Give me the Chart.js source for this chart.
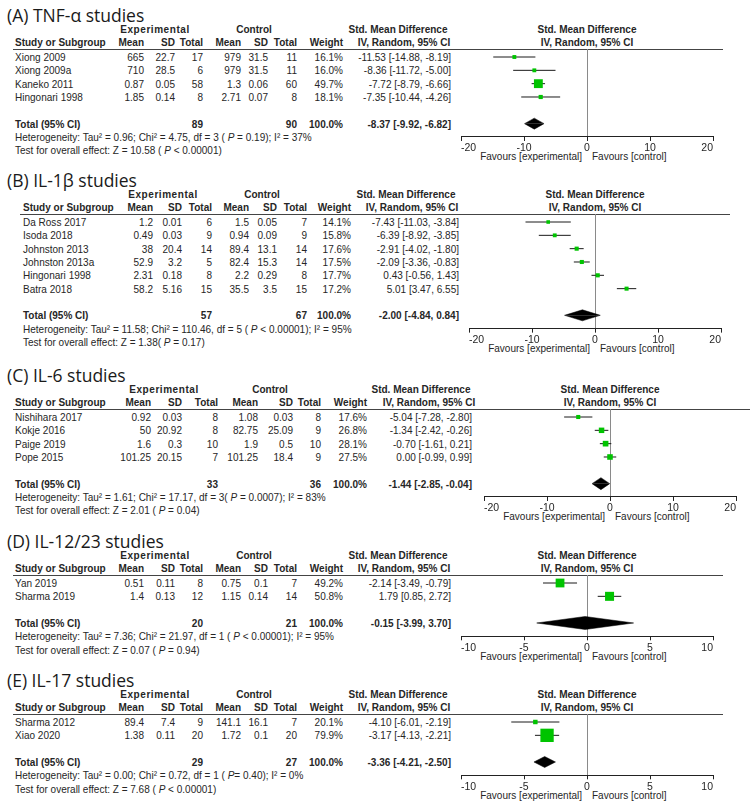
<!DOCTYPE html>
<html><head><meta charset="utf-8">
<script src="https://cdn.jsdelivr.net/npm/chart.js@4.4.1/dist/chart.umd.min.js"></script>
<style>
html,body{margin:0;padding:0;background:#fff;}
#root{position:relative;width:750px;height:808px;overflow:hidden;font-family:"Liberation Sans",Arial,Helvetica,sans-serif;font-size:11px;color:#262626;}
.t{position:absolute;white-space:nowrap;line-height:1.15;}
.title{font-family:"Open Sans",sans-serif;font-size:17.5px;color:#1a1a1a;}
.b{font-weight:bold;}
.exp{letter-spacing:0.6px;}
.hl{position:absolute;height:1px;background:#444;}
canvas{position:absolute;}
</style></head><body><div id="root"></div>
<script>
// ---------- (A) TNF-α ----------
const tnfStudies = ["Xiong 2009", "Xiong 2009a", "Kaneko 2011", "Hingonari 1998"];
const tnfExpMean = [665, 710, 0.87, 1.85];
const tnfExpSD = [22.7, 28.5, 0.05, 0.14];
const tnfExpN = [17, 6, 58, 8];
const tnfCtlMean = [979, 979, 1.3, 2.71];
const tnfCtlSD = [31.5, 31.5, 0.06, 0.07];
const tnfCtlN = [11, 11, 60, 8];
const tnfWeight = [16.1, 16.0, 49.7, 18.1];
const tnfSMD = [-11.53, -8.36, -7.72, -7.35];
const tnfLow = [-14.88, -11.72, -8.79, -10.44];
const tnfHigh = [-8.19, -5.00, -6.66, -4.26];
const tnfTotalN = [89, 90];
const tnfPooled = [-8.37, -9.92, -6.82];
const tnfHet = "Heterogeneity: Tau² = 0.96; Chi² = 4.75, df = 3 ( <i>P</i> = 0.19); I² = 37%";
const tnfTest = "Test for overall effect: Z = 10.58 ( <i>P</i> &lt; 0.00001)";
const tnfTicks = [-20, -10, 0, 10, 20];

// ---------- (B) IL-1β ----------
const il1bStudies = ["Da Ross 2017", "Isoda 2018", "Johnston 2013", "Johnston 2013a", "Hingonari 1998", "Batra 2018"];
const il1bExpMean = [1.2, 0.49, 38, 52.9, 2.31, 58.2];
const il1bExpSD = [0.01, 0.03, 20.4, 3.2, 0.18, 5.16];
const il1bExpN = [6, 9, 14, 5, 8, 15];
const il1bCtlMean = [1.5, 0.94, 89.4, 82.4, 2.2, 35.5];
const il1bCtlSD = [0.05, 0.09, 13.1, 15.3, 0.29, 3.5];
const il1bCtlN = [7, 9, 14, 14, 8, 15];
const il1bWeight = [14.1, 15.8, 17.6, 17.5, 17.7, 17.2];
const il1bSMD = [-7.43, -6.39, -2.91, -2.09, 0.43, 5.01];
const il1bLow = [-11.03, -8.92, -4.02, -3.36, -0.56, 3.47];
const il1bHigh = [-3.84, -3.85, -1.80, -0.83, 1.43, 6.55];
const il1bTotalN = [57, 67];
const il1bPooled = [-2.00, -4.84, 0.84];
const il1bHet = "Heterogeneity: Tau² = 11.58; Chi² = 110.46, df = 5 ( <i>P</i> &lt; 0.00001); I² = 95%";
const il1bTest = "Test for overall effect: Z = 1.38( <i>P</i> = 0.17)";
const il1bTicks = [-20, -10, 0, 10, 20];

// ---------- (C) IL-6 ----------
const il6Studies = ["Nishihara 2017", "Kokje 2016", "Paige 2019", "Pope 2015"];
const il6ExpMean = [0.92, 50, 1.6, 101.25];
const il6ExpSD = [0.03, 20.92, 0.3, 20.15];
const il6ExpN = [8, 8, 10, 7];
const il6CtlMean = [1.08, 82.75, 1.9, 101.25];
const il6CtlSD = [0.03, 25.09, 0.5, 18.4];
const il6CtlN = [8, 9, 10, 9];
const il6Weight = [17.6, 26.8, 28.1, 27.5];
const il6SMD = [-5.04, -1.34, -0.70, 0.00];
const il6Low = [-7.28, -2.42, -1.61, -0.99];
const il6High = [-2.80, -0.26, 0.21, 0.99];
const il6TotalN = [33, 36];
const il6Pooled = [-1.44, -2.85, -0.04];
const il6Het = "Heterogeneity: Tau² = 1.61; Chi² = 17.17, df = 3( <i>P</i> = 0.0007); I² = 83%";
const il6Test = "Test for overall effect: Z = 2.01 ( <i>P</i> = 0.04)";
const il6Ticks = [-20, -10, 0, 10, 20];

// ---------- (D) IL-12/23 ----------
const il12Studies = ["Yan 2019", "Sharma 2019"];
const il12ExpMean = [0.51, 1.4];
const il12ExpSD = [0.11, 0.13];
const il12ExpN = [8, 12];
const il12CtlMean = [0.75, 1.15];
const il12CtlSD = [0.1, 0.14];
const il12CtlN = [7, 14];
const il12Weight = [49.2, 50.8];
const il12SMD = [-2.14, 1.79];
const il12Low = [-3.49, 0.85];
const il12High = [-0.79, 2.72];
const il12TotalN = [20, 21];
const il12Pooled = [-0.15, -3.99, 3.70];
const il12Het = "Heterogeneity: Tau² = 7.36; Chi² = 21.97, df = 1 ( <i>P</i> &lt; 0.00001); I² = 95%";
const il12Test = "Test for overall effect: Z = 0.07 ( <i>P</i> = 0.94)";
const il12Ticks = [-10, -5, 0, 5, 10];

// ---------- (E) IL-17 ----------
const il17Studies = ["Sharma 2012", "Xiao 2020"];
const il17ExpMean = [89.4, 1.38];
const il17ExpSD = [7.4, 0.11];
const il17ExpN = [9, 20];
const il17CtlMean = [141.1, 1.72];
const il17CtlSD = [16.1, 0.1];
const il17CtlN = [7, 20];
const il17Weight = [20.1, 79.9];
const il17SMD = [-4.10, -3.17];
const il17Low = [-6.01, -4.13];
const il17High = [-2.19, -2.21];
const il17TotalN = [29, 27];
const il17Pooled = [-3.36, -4.21, -2.50];
const il17Het = "Heterogeneity: Tau² = 0.00; Chi² = 0.72, df = 1 ( <i>P</i>= 0.40); I² = 0%";
const il17Test = "Test for overall effect: Z = 7.68 ( <i>P</i> &lt; 0.00001)";
const il17Ticks = [-10, -5, 0, 5, 10];

// ---------- assembly ----------
const root = document.getElementById('root');
const FONT = '"Liberation Sans", Arial, Helvetica, sans-serif';
const ROWH = 13.33;
const GREEN = '#00c400';
const SQX = 0.91;

function txt(x, y, html, align, cls) {
  const d = document.createElement('div');
  d.className = 't ' + (cls || '');
  d.innerHTML = html;
  d.style.left = x + 'px';
  d.style.top = y + 'px';
  const isTitle = (cls || '').indexOf('title') >= 0;
  const tx = align === 'r' ? '-100%' : (align === 'c' ? '-50%' : '0');
  d.style.transformOrigin = (align === 'r' ? 'right' : (align === 'c' ? 'center' : 'left')) + ' center';
  d.style.transform = 'translate(' + tx + ',-50%)' + (isTitle ? '' : ' scaleX(' + SQX + ')');
  root.appendChild(d);
}

function panel(d, L) {
  const n = d.studies.length;
  const r0 = L.row0;
  const rowY = i => r0 + i * ROWH;
  const c = L.cols;
  const zero = (L.xl + L.xr) / 2;
  txt(7, r0 - 42.5, d.title, 'l', 'title');
  txt(L.exp, r0 - 28, 'Experimental', 'c', 'b exp');
  txt(L.ctl, r0 - 28, 'Control', 'c', 'b');
  txt(L.smdH[0], r0 - 28, 'Std. Mean Difference', 'c', 'b');
  txt(zero, r0 - 28, 'Std. Mean Difference', 'c', 'b');
  txt(L.studyX, r0 - 15, 'Study or Subgroup', 'l', 'b');
  ['Mean', 'SD', 'Total', 'Mean', 'SD', 'Total', 'Weight'].forEach((h, k) => txt(c[k], r0 - 15, h, 'r', 'b'));
  txt(L.smdH[1], r0 - 15, 'IV, Random, 95% CI', 'c', 'b');
  txt(zero, r0 - 15, 'IV, Random, 95% CI', 'c', 'b');
  const lineY = r0 - 8;
  const hl = document.createElement('div');
  hl.className = 'hl';
  hl.style.left = L.line[0] + 'px';
  hl.style.width = (L.line[1] - L.line[0]) + 'px';
  hl.style.top = lineY + 'px';
  root.appendChild(hl);

  for (let i = 0; i < n; i++) {
    const y = rowY(i);
    txt(L.studyX, y, d.studies[i], 'l');
    const vals = [d.expMean[i], d.expSD[i], d.expN[i], d.ctlMean[i], d.ctlSD[i], d.ctlN[i], d.weight[i].toFixed(1) + '%'];
    vals.forEach((v, k) => txt(c[k], y, String(v), 'r'));
    txt(c[7], y, d.smd[i].toFixed(2) + ' [' + d.low[i].toFixed(2) + ', ' + d.high[i].toFixed(2) + ']', 'r');
  }
  const ty = rowY(n + 1);
  txt(L.studyX, ty, 'Total (95% CI)', 'l', 'b');
  txt(c[2], ty, String(d.totalN[0]), 'r', 'b');
  txt(c[5], ty, String(d.totalN[1]), 'r', 'b');
  txt(c[6], ty, '100.0%', 'r', 'b');
  txt(c[7], ty, d.pooled[0].toFixed(2) + ' [' + d.pooled[1].toFixed(2) + ', ' + d.pooled[2].toFixed(2) + ']', 'r', 'b');
  txt(L.studyX, rowY(n + 2), d.het, 'l');
  txt(L.studyX, rowY(n + 3), d.test, 'l');

  const axisY = rowY(n + 2);
  txt(zero - 5, axisY + 19.5, 'Favours [experimental]', 'r');
  txt(zero + 5, axisY + 19.5, 'Favours [control]', 'l');

  // chart
  const padL = 10, padR = 10, padT = 10, xH = 18;
  const cTop = lineY - padT;
  const H = Math.ceil(axisY - cTop + xH);
  const padB = H - (axisY - cTop) - xH;
  const W = L.xr - L.xl + padL + padR;
  const cv = document.createElement('canvas');
  cv.width = W; cv.height = H;
  cv.style.left = (L.xl - padL) + 'px';
  cv.style.top = cTop + 'px';
  cv.style.width = W + 'px';
  cv.style.height = H + 'px';
  root.appendChild(cv);

  const datasets = [];
  datasets.push({
    type: 'line', showLine: false, order: 0, clip: false,
    data: d.smd.map((v, i) => ({x: v, y: i})),
    pointStyle: 'rect',
    pointRadius: ctx => (1.5 + 0.148 * d.weight[ctx.dataIndex]) / Math.SQRT2,
    pointBackgroundColor: GREEN, pointBorderWidth: 0, pointHoverRadius: 0
  });
  for (let i = 0; i < n; i++) {
    datasets.push({
      type: 'line', order: 2, clip: false,
      data: [{x: d.low[i], y: i}, {x: d.high[i], y: i}],
      borderColor: '#1a1a1a', borderWidth: 1, pointRadius: 0, fill: false, tension: 0
    });
  }
  const tr = n + 1, hh = L.dh / ROWH;
  [-hh, hh].forEach(off => {
    datasets.push({
      type: 'line', order: 1, clip: false,
      data: [{x: d.pooled[1], y: tr}, {x: d.pooled[0], y: tr + off}, {x: d.pooled[2], y: tr}],
      borderColor: '#000', borderWidth: 0.5, backgroundColor: '#000',
      pointRadius: 0, tension: 0, fill: {value: tr}
    });
  });

  new Chart(cv, {
    type: 'line',
    data: {datasets},
    options: {
      responsive: false, animation: false, devicePixelRatio: 1,
      layout: {padding: {left: padL, right: padR, top: padT, bottom: padB}},
      plugins: {legend: {display: false}, tooltip: {enabled: false}},
      events: [],
      scales: {
        x: {
          type: 'linear', min: d.ticks[0], max: d.ticks[d.ticks.length - 1],
          afterFit: s => { s.height = xH; },
          afterBuildTicks: s => { s.ticks = d.ticks.map(v => ({value: v})); },
          ticks: {align: 'inner', padding: 1, color: '#262626', font: {family: FONT, size: 10.5}, autoSkip: false, maxRotation: 0},
          grid: {
            color: ctx => (ctx.tick && ctx.tick.value === 0) ? '#8a8a8a' : 'rgba(0,0,0,0)',
            tickColor: '#222', tickLength: 4, lineWidth: 1, drawOnChartArea: true, drawTicks: true
          },
          border: {display: true, color: '#222', width: 1}
        },
        y: {type: 'linear', display: false, reverse: true, min: -8 / ROWH, max: n + 2}
      }
    }
  });
}

const layA = {row0: 57, studyX: 15, cols: [144, 175, 203, 241, 268, 297, 343, 451], exp: 155, ctl: 254, smdH: [398, 403.5], xl: 461, xr: 713, line: [13, 723], dh: 5.5};
const layB = {row0: 222, studyX: 23, cols: [153, 182, 212, 249, 277, 307, 351, 459], exp: 163, ctl: 262, smdH: [406, 411.5], xl: 469, xr: 721, line: [20, 730], dh: 5.5};
const layC = {row0: 417, studyX: 15, cols: [151, 182, 218, 258, 293, 321, 367, 472], exp: 164, ctl: 270, smdH: [421, 429], xl: 484, xr: 736, line: [13, 750], dh: 6};
const layD = {row0: 583, studyX: 15, cols: [144, 175, 203, 241, 268, 297, 343, 451], exp: 155, ctl: 254, smdH: [398, 403.5], xl: 461, xr: 713, line: [13, 723], dh: 6.5};
const layE = {row0: 722, studyX: 15, cols: [144, 175, 203, 241, 268, 297, 343, 451], exp: 155, ctl: 254, smdH: [398, 403.5], xl: 461, xr: 713, line: [13, 723], dh: 5.5};

panel({title: '(A) TNF-α studies', studies: tnfStudies, expMean: tnfExpMean, expSD: tnfExpSD, expN: tnfExpN, ctlMean: tnfCtlMean, ctlSD: tnfCtlSD, ctlN: tnfCtlN, weight: tnfWeight, smd: tnfSMD, low: tnfLow, high: tnfHigh, totalN: tnfTotalN, pooled: tnfPooled, het: tnfHet, test: tnfTest, ticks: tnfTicks}, layA);
panel({title: '(B) IL-1β studies', studies: il1bStudies, expMean: il1bExpMean, expSD: il1bExpSD, expN: il1bExpN, ctlMean: il1bCtlMean, ctlSD: il1bCtlSD, ctlN: il1bCtlN, weight: il1bWeight, smd: il1bSMD, low: il1bLow, high: il1bHigh, totalN: il1bTotalN, pooled: il1bPooled, het: il1bHet, test: il1bTest, ticks: il1bTicks}, layB);
panel({title: '(C) IL-6 studies', studies: il6Studies, expMean: il6ExpMean, expSD: il6ExpSD, expN: il6ExpN, ctlMean: il6CtlMean, ctlSD: il6CtlSD, ctlN: il6CtlN, weight: il6Weight, smd: il6SMD, low: il6Low, high: il6High, totalN: il6TotalN, pooled: il6Pooled, het: il6Het, test: il6Test, ticks: il6Ticks}, layC);
panel({title: '(D) IL-12/23 studies', studies: il12Studies, expMean: il12ExpMean, expSD: il12ExpSD, expN: il12ExpN, ctlMean: il12CtlMean, ctlSD: il12CtlSD, ctlN: il12CtlN, weight: il12Weight, smd: il12SMD, low: il12Low, high: il12High, totalN: il12TotalN, pooled: il12Pooled, het: il12Het, test: il12Test, ticks: il12Ticks}, layD);
panel({title: '(E) IL-17 studies', studies: il17Studies, expMean: il17ExpMean, expSD: il17ExpSD, expN: il17ExpN, ctlMean: il17CtlMean, ctlSD: il17CtlSD, ctlN: il17CtlN, weight: il17Weight, smd: il17SMD, low: il17Low, high: il17High, totalN: il17TotalN, pooled: il17Pooled, het: il17Het, test: il17Test, ticks: il17Ticks}, layE);
</script></body></html>
